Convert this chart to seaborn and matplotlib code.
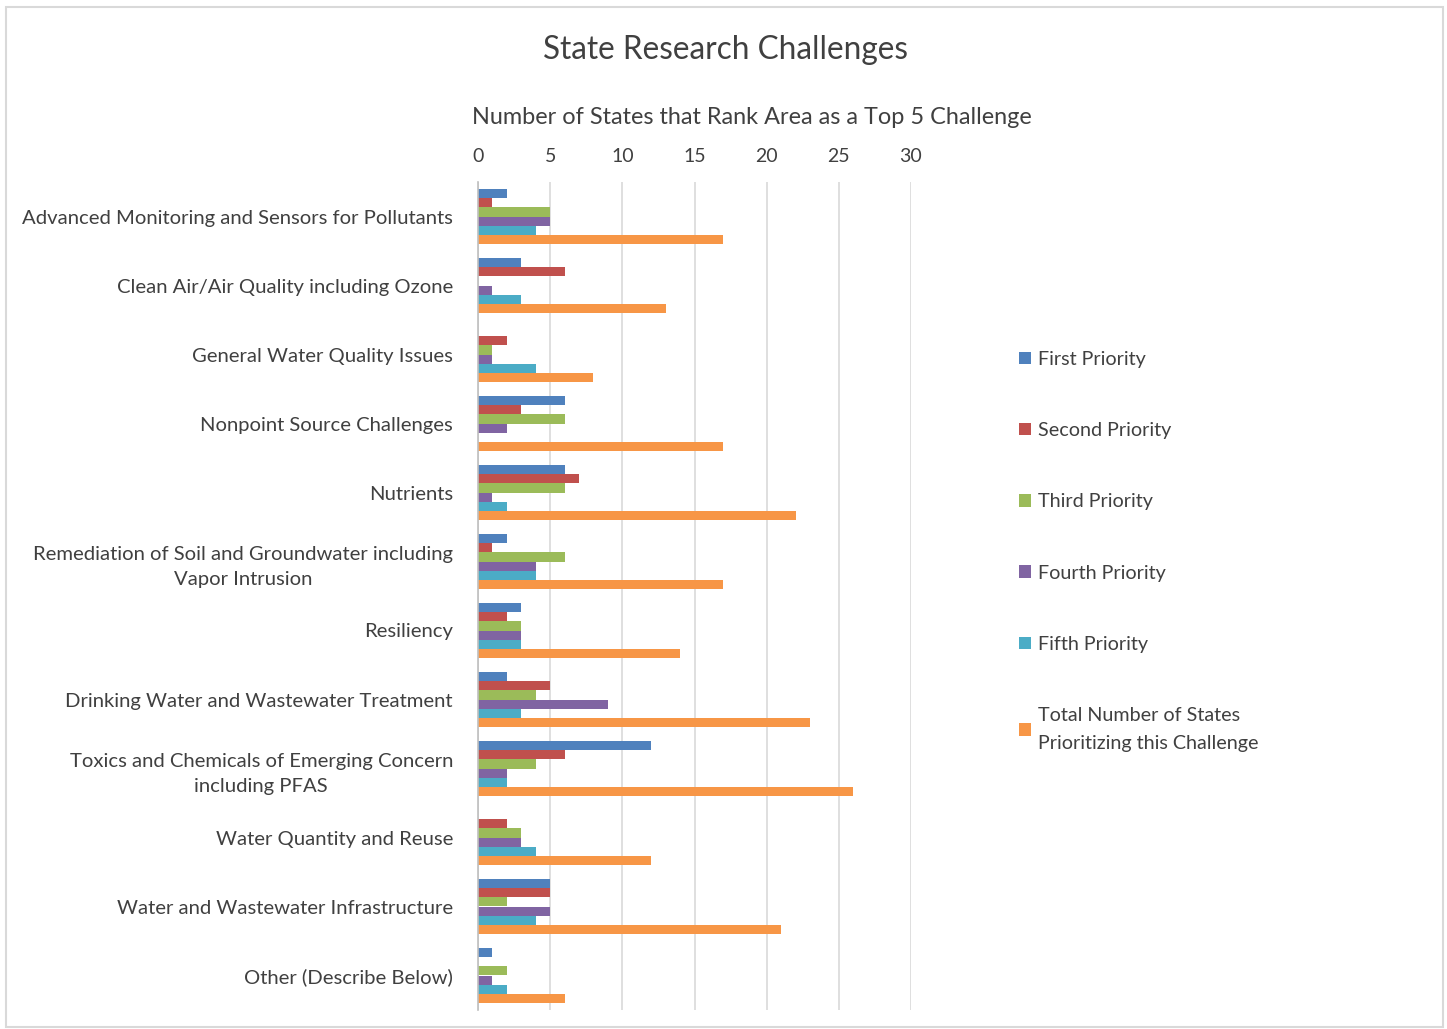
import matplotlib
matplotlib.use("Agg")
import matplotlib.pyplot as plt
import seaborn as sns
import pandas as pd
from matplotlib.patches import Rectangle, Patch

categories = [
    "Advanced Monitoring and Sensors for Pollutants",
    "Clean Air/Air Quality including Ozone",
    "General Water Quality Issues",
    "Nonpoint Source Challenges",
    "Nutrients",
    "Remediation of Soil and Groundwater including\nVapor Intrusion",
    "Resiliency",
    "Drinking Water and Wastewater Treatment",
    "Toxics and Chemicals of Emerging Concern\nincluding PFAS",
    "Water Quantity and Reuse",
    "Water and Wastewater Infrastructure",
    "Other (Describe Below)",
]
first_priority = [2, 3, 0, 6, 6, 2, 3, 2, 12, 0, 5, 1]
second_priority = [1, 6, 2, 3, 7, 1, 2, 5, 6, 2, 5, 0]
third_priority = [5, 0, 1, 6, 6, 6, 3, 4, 4, 3, 2, 2]
fourth_priority = [5, 1, 1, 2, 1, 4, 3, 9, 2, 3, 5, 1]
fifth_priority = [4, 3, 4, 0, 2, 4, 3, 3, 2, 4, 4, 2]
total_states = [17, 13, 8, 17, 22, 17, 14, 23, 26, 12, 21, 6]

series_names = ["First Priority", "Second Priority", "Third Priority",
                "Fourth Priority", "Fifth Priority",
                "Total Number of States\nPrioritizing this Challenge"]
series_values = [first_priority, second_priority, third_priority,
                 fourth_priority, fifth_priority, total_states]
colors = ["#4F81BD", "#C0504D", "#9BBB59", "#8064A2", "#4BACC6", "#F79646"]
xticks = [0, 5, 10, 15, 20, 25, 30]

rows = []
for name, vals in zip(series_names, series_values):
    for c, v in zip(categories, vals):
        rows.append({"Challenge": c, "Series": name, "Value": v})
df = pd.DataFrame(rows)

sns.set_theme(style="white")
plt.rcParams["font.family"] = ["Lato", "DejaVu Sans"]
text_color = "#404040"

fig = plt.figure(figsize=(14.47, 10.29), dpi=100)
ax = fig.add_axes([478 / 1447, 1 - 1010 / 1029, (911 - 478) / 1447, (1010 - 182) / 1029])

sns.barplot(data=df, y="Challenge", x="Value", hue="Series", order=categories,
            hue_order=series_names, palette=colors, orient="h", width=0.8,
            saturation=1, ax=ax, legend=False, errorbar=None,
            linewidth=0, edgecolor="none", gap=0)

ax.set_xlim(0, 30)
ax.set_xticks(xticks)
ax.xaxis.tick_top()
ax.tick_params(axis="x", length=0, labelsize=14, labelcolor=text_color, pad=12)
ax.tick_params(axis="y", length=0, labelsize=14.6, labelcolor=text_color, pad=18)
for lbl in ax.get_yticklabels():
    lbl.set_multialignment("center")
    lbl.set_linespacing(1.55)
ax.set_xlabel("")
ax.set_ylabel("")
ax.grid(axis="x", color="#D9D9D9", linewidth=1.2)
ax.set_axisbelow(True)
for s in ["top", "right", "bottom"]:
    ax.spines[s].set_visible(False)
ax.spines["left"].set_color("#BFBFBF")
ax.spines["left"].set_linewidth(1.2)

fig.text(725 / 1447, 1 - 50 / 1029, "State Research Challenges", ha="center",
         va="center", fontsize=22.7, color=text_color)
fig.text(752 / 1447, 1 - 118 / 1029,
         "Number of States that Rank Area as a Top 5 Challenge",
         ha="center", va="center", fontsize=16.9, color=text_color)

handles = [Patch(facecolor=c, edgecolor="none") for c in colors]
leg = fig.legend(handles, series_names, loc="upper left",
                 bbox_to_anchor=(1009 / 1447, 1 - 341 / 1029),
                 frameon=False, fontsize=14.2, handlelength=0.6, handleheight=0.6,
                 handletextpad=0.35, labelspacing=2.75, borderpad=0,
                 labelcolor=text_color)
for t in leg.get_texts():
    t.set_linespacing(1.8)

fig.patches.append(Rectangle((6 / 1447, 1 - 1027 / 1029), 1437 / 1447, 1020 / 1029,
                             transform=fig.transFigure, fill=False,
                             edgecolor="#D9D9D9", linewidth=1.5))

fig.savefig("out.png", dpi=100, facecolor="white")
